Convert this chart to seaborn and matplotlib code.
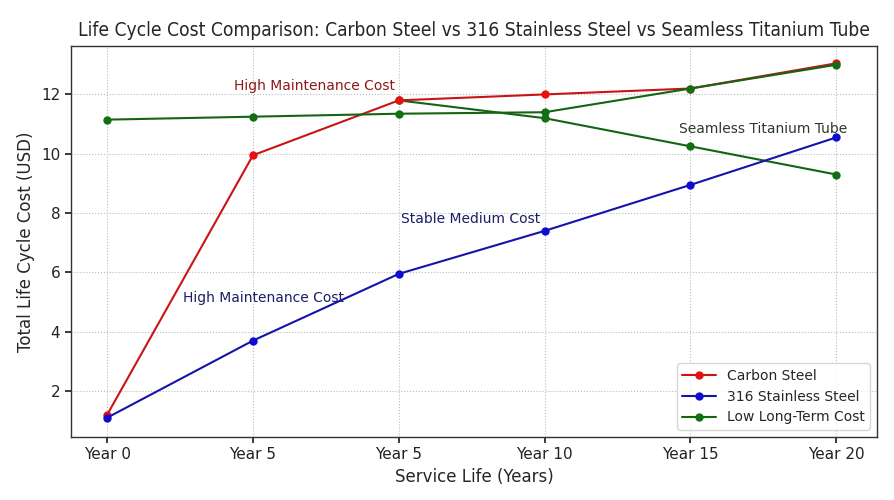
import matplotlib
matplotlib.use("Agg")
from matplotlib import pyplot as plt
import numpy as np
import pandas as pd
import seaborn as sns

sns.set_theme(style="ticks")
plt.rcParams["font.family"] = ["DejaVu Sans"]

# chart data
years = ["Year 0", "Year 5", "Year 5", "Year 10", "Year 15", "Year 20"]
carbon_steel = [1.2, 9.95, 11.8, 12.0, 12.2, 13.05]
stainless_316 = [1.1, 3.7, 5.95, 7.4, 8.95, 10.55]
low_long_term = [11.15, 11.25, 11.35, 11.4, 12.2, 13.0]
titanium_branch = [11.8, 11.2, 10.25, 9.3]  # green branch from the 2nd "Year 5"

pos = np.arange(len(years))
df = pd.DataFrame({
    "pos": pos,
    "Carbon Steel": carbon_steel,
    "316 Stainless Steel": stainless_316,
    "Low Long-Term Cost": low_long_term,
})
branch = pd.DataFrame({"pos": pos[2:], "cost": titanium_branch})

RED, RED_M = "#c81414", "#e81010"
BLUE, BLUE_M = "#1414aa", "#0c0cd2"
GREEN, GREEN_M = "#146414", "#127012"

fig, ax = plt.subplots(figsize=(8.95, 5.0), dpi=100)
fig.subplots_adjust(left=0.079, right=0.98, top=0.909, bottom=0.126)

line_kw = dict(marker="o", markersize=6, linewidth=1.5, markeredgewidth=0)
sns.lineplot(data=branch, x="pos", y="cost", color=GREEN, markerfacecolor=GREEN_M,
             ax=ax, legend=False, **line_kw)
sns.lineplot(data=df, x="pos", y="Carbon Steel", color=RED, markerfacecolor=RED_M,
             label="Carbon Steel", ax=ax, **line_kw)
sns.lineplot(data=df, x="pos", y="316 Stainless Steel", color=BLUE, markerfacecolor=BLUE_M,
             label="316 Stainless Steel", ax=ax, **line_kw)
sns.lineplot(data=df, x="pos", y="Low Long-Term Cost", color=GREEN, markerfacecolor=GREEN_M,
             label="Low Long-Term Cost", ax=ax, **line_kw)

ax.text(1.42, 12.3, "High Maintenance Cost", color="#8b1a1a", fontsize=10, ha="center", va="center")
ax.text(1.07, 5.13, "High Maintenance Cost", color="#1c1c6a", fontsize=10, ha="center", va="center")
ax.text(2.49, 7.79, "Stable Medium Cost", color="#1c1c6a", fontsize=10, ha="center", va="center")
ax.text(4.5, 10.82, "Seamless Titanium Tube", color="#2c3a2c", fontsize=10, ha="center", va="center")

ax.set_xticks(pos)
ax.set_xticklabels(years)
ax.set_xlim(-0.25, 5.28)
ax.set_ylim(0.45, 13.65)
ax.set_yticks([2, 4, 6, 8, 10, 12])
ax.tick_params(labelsize=11, colors="#222222", length=4)
ax.grid(True, linestyle=":", color="#bbbbbb", linewidth=0.8)
for s in ax.spines.values():
    s.set_color("#333333")
    s.set_linewidth(1.0)

ax.set_xlabel("Service Life (Years)", fontsize=12)
ax.set_ylabel("Total Life Cycle Cost (USD)", fontsize=12)
ax.set_title("Life Cycle Cost Comparison: Carbon Steel vs 316 Stainless Steel vs Seamless Titanium Tube",
             fontsize=13.8, fontstretch="condensed", pad=7)
ax.legend(loc="lower right", fontsize=10, frameon=True, handlelength=2.4)

fig.savefig("out.png", dpi=100)
